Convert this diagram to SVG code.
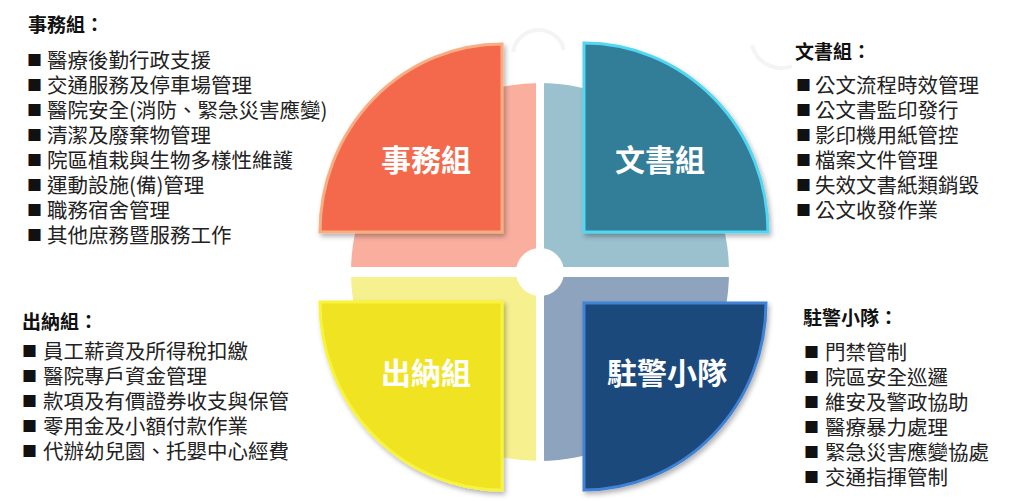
<svg xmlns="http://www.w3.org/2000/svg" width="1016" height="501" viewBox="0 0 1016 501">
<style>
.h{font-family:"Noto Sans CJK TC","Noto Sans CJK SC",sans-serif;font-weight:bold;font-size:19px;fill:#111}
.t{font-family:"Noto Sans CJK TC","Noto Sans CJK SC",sans-serif;font-size:20.5px;fill:#222}
.sq{font-family:"Noto Sans CJK TC","Noto Sans CJK SC",sans-serif;font-size:15px;fill:#111}
.lbl{font-family:"Noto Sans CJK TC","Noto Sans CJK SC",sans-serif;font-weight:bold;font-size:30px;fill:#fff;text-anchor:middle}
.sec{stroke-width:3;stroke-linejoin:miter;filter:url(#sh)}
</style>
<defs>
<filter id="sh" x="-10%" y="-10%" width="130%" height="130%">
<feDropShadow dx="2" dy="3" stdDeviation="2.5" flood-color="#000" flood-opacity="0.3"/>
</filter>
</defs>
<rect width="1016" height="501" fill="#fff"/>
<g id="background-ring">
<path d="M513,52 A26,26 0 0 1 564,50" fill="none" stroke="#f4f4f4" stroke-width="4"/>
<path d="M752,45 A30,30 0 0 0 792,66" fill="none" stroke="#f4f4f4" stroke-width="4"/>
<path d="M540,272 L351,272 A189,189 0 0 1 540,83 Z" fill="#F9AE9E"/>
<path d="M540,272 L540,83 A189,189 0 0 1 729,272 Z" fill="#9BC1CE"/>
<path d="M540,272 L729,272 A189,189 0 0 1 540,461 Z" fill="#8EA3BE"/>
<path d="M540,272 L540,461 A189,189 0 0 1 351,272 Z" fill="#F7F08F"/>
<rect x="536" y="75" width="8" height="395" fill="#fff"/>
<rect x="345" y="267" width="390" height="10" fill="#fff"/>
<circle cx="540" cy="272" r="24" fill="#fff"/>
</g>
<g id="node-shiwu">
<path class="sec" d="M502,232 L320,232 A182,188 0 0 1 502,44 Z" fill="#F4694B" stroke="#F8AE82"/>
<text class="lbl" x="426" y="171">事務組</text>
</g>
<g id="node-wenshu">
<path class="sec" d="M584,232 L584,43 A184,189 0 0 1 768,232 Z" fill="#317D97" stroke="#52D6F2"/>
<text class="lbl" x="660" y="171">文書組</text>
</g>
<g id="node-chuna">
<path class="sec" d="M502,302 L502,490 A182,188 0 0 1 320,302 Z" fill="#F0E323" stroke="#F8F43A"/>
<text class="lbl" x="426" y="384">出納組</text>
</g>
<g id="node-zhujing">
<path class="sec" d="M584,303 L766,303 A182,187 0 0 1 584,490 Z" fill="#1F487C" stroke="#3F82D6"/>
<text class="lbl" x="667" y="384">駐警小隊</text>
</g>
<g id="list-shiwu">
<text class="h" x="28" y="32">事務組：</text>
<text><tspan class="sq" x="27" y="66">■</tspan><tspan class="t" x="47" y="68">醫療後勤行政支援</tspan></text>
<text><tspan class="sq" x="27" y="91">■</tspan><tspan class="t" x="47" y="93">交通服務及停車場管理</tspan></text>
<text><tspan class="sq" x="27" y="116">■</tspan><tspan class="t" x="47" y="118">醫院安全(消防、緊急災害應變)</tspan></text>
<text><tspan class="sq" x="27" y="141">■</tspan><tspan class="t" x="47" y="143">清潔及廢棄物管理</tspan></text>
<text><tspan class="sq" x="27" y="166">■</tspan><tspan class="t" x="47" y="168">院區植栽與生物多樣性維護</tspan></text>
<text><tspan class="sq" x="27" y="191">■</tspan><tspan class="t" x="47" y="193">運動設施(備)管理</tspan></text>
<text><tspan class="sq" x="27" y="216">■</tspan><tspan class="t" x="47" y="218">職務宿舍管理</tspan></text>
<text><tspan class="sq" x="27" y="241">■</tspan><tspan class="t" x="47" y="243">其他庶務暨服務工作</tspan></text>
</g>
<g id="list-wenshu">
<text class="h" x="795" y="59">文書組：</text>
<text><tspan class="sq" x="796" y="91">■</tspan><tspan class="t" x="815" y="93">公文流程時效管理</tspan></text>
<text><tspan class="sq" x="796" y="116">■</tspan><tspan class="t" x="815" y="118">公文書監印發行</tspan></text>
<text><tspan class="sq" x="796" y="141">■</tspan><tspan class="t" x="815" y="143">影印機用紙管控</tspan></text>
<text><tspan class="sq" x="796" y="166">■</tspan><tspan class="t" x="815" y="168">檔案文件管理</tspan></text>
<text><tspan class="sq" x="796" y="191">■</tspan><tspan class="t" x="815" y="193">失效文書紙類銷毀</tspan></text>
<text><tspan class="sq" x="796" y="216">■</tspan><tspan class="t" x="815" y="218">公文收發作業</tspan></text>
</g>
<g id="list-chuna">
<text class="h" x="22" y="329">出納組：</text>
<text><tspan class="sq" x="22" y="357">■</tspan><tspan class="t" x="43" y="359">員工薪資及所得稅扣繳</tspan></text>
<text><tspan class="sq" x="22" y="382">■</tspan><tspan class="t" x="43" y="384">醫院專戶資金管理</tspan></text>
<text><tspan class="sq" x="22" y="407">■</tspan><tspan class="t" x="43" y="409">款項及有價證券收支與保管</tspan></text>
<text><tspan class="sq" x="22" y="432">■</tspan><tspan class="t" x="43" y="434">零用金及小額付款作業</tspan></text>
<text><tspan class="sq" x="22" y="457">■</tspan><tspan class="t" x="43" y="459">代辦幼兒園、托嬰中心經費</tspan></text>
</g>
<g id="list-zhujing">
<text class="h" x="803" y="325">駐警小隊：</text>
<text><tspan class="sq" x="804" y="358">■</tspan><tspan class="t" x="825" y="360">門禁管制</tspan></text>
<text><tspan class="sq" x="804" y="383">■</tspan><tspan class="t" x="825" y="385">院區安全巡邏</tspan></text>
<text><tspan class="sq" x="804" y="408">■</tspan><tspan class="t" x="825" y="410">維安及警政協助</tspan></text>
<text><tspan class="sq" x="804" y="433">■</tspan><tspan class="t" x="825" y="435">醫療暴力處理</tspan></text>
<text><tspan class="sq" x="804" y="458">■</tspan><tspan class="t" x="825" y="460">緊急災害應變協處</tspan></text>
<text><tspan class="sq" x="804" y="483">■</tspan><tspan class="t" x="825" y="485">交通指揮管制</tspan></text>
</g>
</svg>
